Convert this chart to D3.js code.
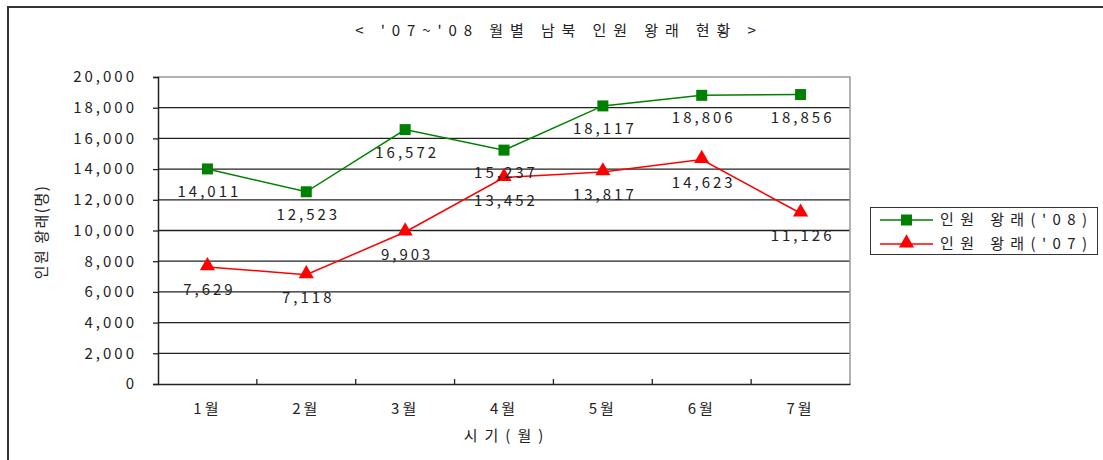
<!DOCTYPE html>
<html>
<head>
<meta charset="utf-8">
<script src="https://cdn.jsdelivr.net/npm/d3@7"></script>
<style>
  html, body { margin: 0; padding: 0; background: #fff; }
  svg { display: block; }
  text { font-family: "Noto Sans CJK KR", "Noto Sans", sans-serif; fill: #222; }
</style>
</head>
<body>
<svg id="chart" width="1103" height="460"></svg>
<script>
// Monthly inter-Korean personnel exchanges, Jan–Jul
const months = ["1월", "2월", "3월", "4월", "5월", "6월", "7월"];
const visits2008 = [14011, 12523, 16572, 15237, 18117, 18806, 18856];
const visits2007 = [7629, 7118, 9903, 13452, 13817, 14623, 11126];
const yTicks = [0, 2000, 4000, 6000, 8000, 10000, 12000, 14000, 16000, 18000, 20000];
const seriesNames = ["인원 왕래('08)", "인원 왕래('07)"];

const svg = d3.select("#chart");
const plot = { left: 158, right: 850, top: 77, bottom: 384 };

const x = d3.scaleBand().domain(months).range([plot.left, plot.right]);
const y = d3.scaleLinear().domain([0, 20000]).range([plot.bottom, plot.top]);
const fmt = d3.format(",");

// outer frame (top and left edges)
svg.append("path")
  .attr("d", "M8,460 V7 H1103")
  .attr("fill", "none").attr("stroke", "#333").attr("stroke-width", 2);

// title
svg.append("text")
  .attr("x", 559).attr("y", 36)
  .attr("text-anchor", "middle")
  .style("font-size", "15px").style("letter-spacing", "6.9px")
  .text("< '07~'08 월별 남북 인원 왕래 현황 >");

// horizontal gridlines
svg.append("g").selectAll("line")
  .data(yTicks.filter(d => d > 0 && d < 20000))
  .join("line")
  .attr("x1", plot.left).attr("x2", plot.right)
  .attr("y1", d => y(d)).attr("y2", d => y(d))
  .attr("stroke", "#222").attr("stroke-width", 1.3);

// plot border: top and right in grey
svg.append("path")
  .attr("d", `M${plot.left},${y(20000)} H${plot.right} V${plot.bottom}`)
  .attr("fill", "none").attr("stroke", "#999").attr("stroke-width", 1.5);

// y axis
const yAxis = svg.append("g")
  .attr("transform", `translate(${plot.left},0)`)
  .call(d3.axisLeft(y).tickValues(yTicks).tickFormat(fmt).tickSize(5).tickPadding(16));
yAxis.select(".domain").attr("stroke", "#222").attr("stroke-width", 1.5);
yAxis.selectAll(".tick line").attr("stroke", "#222").attr("stroke-width", 1.3);
yAxis.selectAll(".tick text")
  .style("font-size", "15px").style("letter-spacing", "3px")
  .style("font-family", "'Noto Sans CJK KR', sans-serif").attr("fill", "#222");

// x axis with inward ticks on the band boundaries
const xAxis = svg.append("g")
  .attr("transform", `translate(0,${plot.bottom})`)
  .call(d3.axisBottom(x).tickSize(0).tickPadding(19));
xAxis.select(".domain").attr("stroke", "#222").attr("stroke-width", 1.5);
xAxis.selectAll(".tick text")
  .style("font-size", "15px").style("letter-spacing", "3px")
  .style("font-family", "'Noto Sans CJK KR', sans-serif").attr("fill", "#222");
svg.append("g").selectAll("line")
  .data(months.slice(1))
  .join("line")
  .attr("x1", d => x(d)).attr("x2", d => x(d))
  .attr("y1", plot.bottom).attr("y2", plot.bottom - 5)
  .attr("stroke", "#222").attr("stroke-width", 1.3);

// axis titles
svg.append("text")
  .attr("x", (plot.left + plot.right) / 2 + 3).attr("y", 441)
  .attr("text-anchor", "middle")
  .style("font-size", "15px").style("letter-spacing", "7px")
  .text("시기(월)");
svg.append("text")
  .attr("transform", "translate(47,232) rotate(-90)")
  .attr("text-anchor", "middle")
  .style("font-size", "15px").style("letter-spacing", "1.5px")
  .text("인원 왕래(명)");

const cx = d => x(d) + x.bandwidth() / 2;
const line = d3.line().x(d => cx(d.m)).y(d => y(d.v));

const s08 = months.map((m, i) => ({ m, v: visits2008[i] }));
const s07 = months.map((m, i) => ({ m, v: visits2007[i] }));

// series lines
svg.append("path").datum(s08).attr("d", line)
  .attr("fill", "none").attr("stroke", "#008000").attr("stroke-width", 1.5);
svg.append("path").datum(s07).attr("d", line)
  .attr("fill", "none").attr("stroke", "#ff0000").attr("stroke-width", 1.5);

// markers
const sq = d3.symbol().type(d3.symbolSquare).size(121);
const tri = d3.symbol().type(d3.symbolTriangle).size(100);
svg.append("g").selectAll("path").data(s08).join("path")
  .attr("d", sq)
  .attr("transform", d => `translate(${cx(d.m)},${y(d.v)})`)
  .attr("fill", "#008000");
svg.append("g").selectAll("path").data(s07).join("path")
  .attr("d", tri)
  .attr("transform", d => `translate(${cx(d.m)},${y(d.v) - 1})`)
  .attr("fill", "#ff0000");

// value labels below each point
[s08, s07].forEach(s => {
  svg.append("g").selectAll("text").data(s).join("text")
    .attr("x", d => cx(d.m) + 2).attr("y", d => y(d.v) + 28)
    .attr("text-anchor", "middle")
    .style("font-size", "15px").style("letter-spacing", "3px")
    .text(d => fmt(d.v));
});

// legend
const lg = svg.append("g");
lg.append("rect")
  .attr("x", 870.5).attr("y", 207.5).attr("width", 227).attr("height", 47)
  .attr("fill", "#fff").attr("stroke", "#333").attr("stroke-width", 1);
const legendItems = [
  { name: seriesNames[0], color: "#008000", sym: sq },
  { name: seriesNames[1], color: "#ff0000", sym: tri }
];
legendItems.forEach((it, i) => {
  const ly = 220 + i * 24;
  lg.append("line").attr("x1", 880).attr("x2", 933).attr("y1", ly).attr("y2", ly)
    .attr("stroke", it.color).attr("stroke-width", 1.5);
  lg.append("path").attr("d", it.sym)
    .attr("transform", `translate(906.5,${ly - (i ? 1 : 0)})`)
    .attr("fill", it.color);
  lg.append("text").attr("x", 940).attr("y", ly + 5)
    .style("font-size", "15px").style("letter-spacing", "6.4px")
    .text(it.name);
});
</script>
</body>
</html>
